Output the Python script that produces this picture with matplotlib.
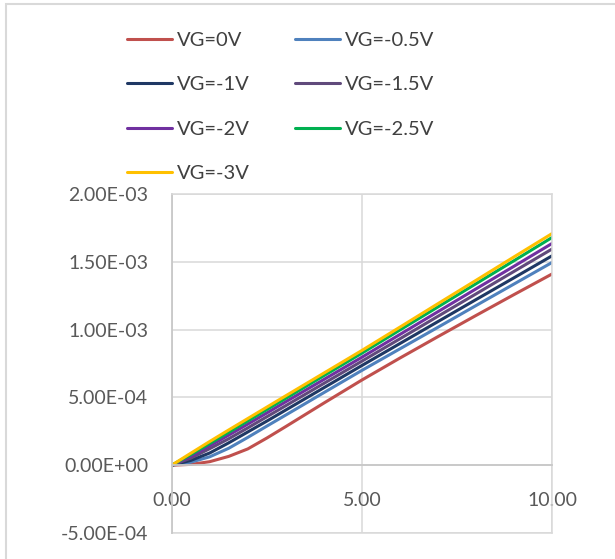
import matplotlib
matplotlib.use("Agg")
import matplotlib.pyplot as plt
from matplotlib.patches import Rectangle
from matplotlib.ticker import FuncFormatter, MultipleLocator

# drain voltage (V)
vd = [0, 0.5, 1, 1.5, 2, 2.5, 3, 4, 5, 6, 7, 8, 9, 10]

# drain current (A) for each gate voltage
id_0v = [0, 6e-6, 2.6e-5, 6.5e-5, 1.2e-4, 2.0e-4, 2.85e-4, 4.58e-4, 6.28e-4, 7.9e-4, 9.48e-4, 1.104e-3, 1.258e-3, 1.41e-3]
id_m05 = [0, 2.2e-5, 6.2e-5, 1.25e-4, 2.05e-4, 2.88e-4, 3.7e-4, 5.35e-4, 6.99e-4, 8.58e-4, 1.017e-3, 1.177e-3, 1.336e-3, 1.495e-3]
id_m1 = [0, 3.5e-5, 9e-5, 1.65e-4, 2.45e-4, 3.25e-4, 4.07e-4, 5.71e-4, 7.35e-4, 8.97e-4, 1.059e-3, 1.221e-3, 1.382e-3, 1.544e-3]
id_m15 = [0, 5.2e-5, 1.22e-4, 1.95e-4, 2.75e-4, 3.57e-4, 4.39e-4, 6.03e-4, 7.67e-4, 9.32e-4, 1.098e-3, 1.263e-3, 1.429e-3, 1.594e-3]
id_m2 = [0, 6.5e-5, 1.43e-4, 2.22e-4, 3.03e-4, 3.85e-4, 4.68e-4, 6.32e-4, 7.96e-4, 9.64e-4, 1.132e-3, 1.3e-3, 1.467e-3, 1.635e-3]
id_m25 = [0, 7.8e-5, 1.6e-4, 2.43e-4, 3.26e-4, 4.1e-4, 4.93e-4, 6.6e-4, 8.26e-4, 9.97e-4, 1.167e-3, 1.338e-3, 1.508e-3, 1.679e-3]
id_m3 = [0, 8.8e-5, 1.75e-4, 2.6e-4, 3.44e-4, 4.28e-4, 5.12e-4, 6.79e-4, 8.46e-4, 1.018e-3, 1.191e-3, 1.363e-3, 1.536e-3, 1.708e-3]

labels = ["VG=0V", "VG=-0.5V", "VG=-1V", "VG=-1.5V", "VG=-2V", "VG=-2.5V", "VG=-3V"]
series = [id_0v, id_m05, id_m1, id_m15, id_m2, id_m25, id_m3]
colors = ["#C0504D", "#4F81BD", "#1F3864", "#604A7B", "#7030A0", "#00B050", "#FFC000"]

plt.rcParams["font.family"] = ["Lato", "DejaVu Sans"]

fig = plt.figure(figsize=(6.15, 5.59), dpi=100)
ax = fig.add_axes([171.7 / 615, 26 / 559, 380.3 / 615, 339 / 559])

lines = []
for y, c, lab in zip(series, colors, labels):
    ln, = ax.plot(vd, y, color=c, lw=2.2, label=lab,
                  solid_capstyle="round", solid_joinstyle="round")
    lines.append(ln)

ax.set_xlim(0, 10)
ax.set_ylim(-5e-4, 2e-3)
ax.xaxis.set_major_locator(MultipleLocator(5))
ax.yaxis.set_major_locator(MultipleLocator(5e-4))
ax.xaxis.set_major_formatter(FuncFormatter(lambda v, p: f"{v:.2f}"))
ax.yaxis.set_major_formatter(FuncFormatter(lambda v, p: f"{v:.2E}"))

# grid and frame in light grey
ax.grid(True, color="#D9D9D9", lw=1.1)
ax.set_axisbelow(True)
for s in ["top", "right"]:
    ax.spines[s].set_color("#D9D9D9")
    ax.spines[s].set_linewidth(1.1)
ax.spines["left"].set_color("#C8C8C8")
ax.spines["left"].set_linewidth(1.3)
ax.spines["bottom"].set_position(("data", 0))
ax.spines["bottom"].set_color("#C8C8C8")
ax.spines["bottom"].set_linewidth(1.3)
ax.axhline(-5e-4, color="#D9D9D9", lw=1.1, clip_on=False)

ax.tick_params(axis="both", length=0, labelsize=14, colors="#595959")
ax.tick_params(axis="y", pad=17)
ax.tick_params(axis="x", pad=19)

# legend filled row by row like the original
order = [0, 2, 4, 6, 1, 3, 5]
fig.legend([lines[i] for i in order], [labels[i] for i in order],
           ncol=2, loc="upper left", bbox_to_anchor=(127 / 615, 1 - 32 / 559),
           frameon=False, fontsize=14.5, labelcolor="#404040",
           handlelength=2.25, handletextpad=0.25, columnspacing=2.2,
           labelspacing=1.35, borderpad=0, borderaxespad=0)

# chart border (left and top visible in the crop)
fig.add_artist(Rectangle((6 / 615, -0.05), 2, 1.05 - 4 / 559, transform=fig.transFigure,
                         fill=False, ec="#D9D9D9", lw=1.5))

fig.savefig("out.png", dpi=100, facecolor="white")
